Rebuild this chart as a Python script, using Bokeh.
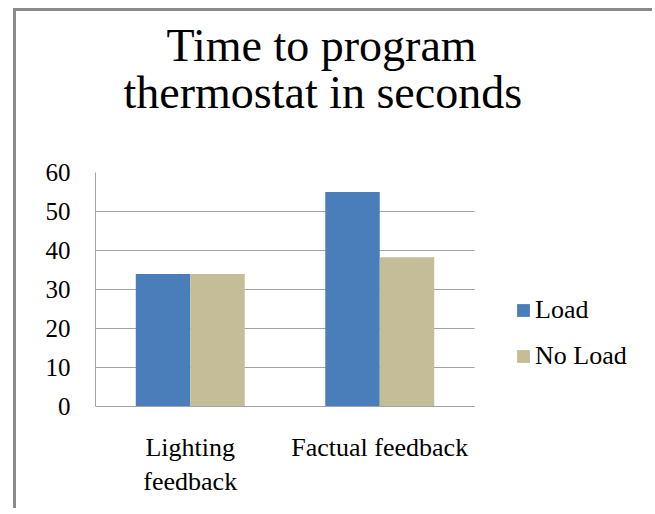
from bokeh.plotting import figure
from bokeh.models import (ColumnDataSource, Range1d, Legend, LegendItem,
                          Title, FixedTicker)
from bokeh.embed import file_html
from bokeh.resources import INLINE

# ---- data ----
categories = ["Lighting\nfeedback", "Factual feedback"]
series = ["Load", "No Load"]
load = [34, 55]
no_load = [34, 38.3]
y_ticks = [0, 10, 20, 30, 40, 50, 60]
colors = ["#4A7EBB", "#C4BD97"]

FONT = "Liberation Serif"
GRID = "#a3a3a3"

n = len(categories)
centers = [i + 0.5 for i in range(n)]
bw = 0.2875
src = ColumnDataSource(dict(
    x_load=[c - bw / 2 for c in centers],
    x_noload=[c + bw / 2 for c in centers],
    load=load, no_load=no_load))

# plot frame spans the bar area plus room for the legend on the right
W, H = 639, 500
FL, FR_BARS, FR = 79, 458, 630
x_end = n * (FR - FL) / (FR_BARS - FL)

p = figure(
    x_range=Range1d(0, x_end), y_range=Range1d(0, 60),
    width=W, height=H,
    output_backend="svg", toolbar_location=None,
    min_border_left=FL, min_border_right=W - FR,
    min_border_top=161, min_border_bottom=105,
)
p.styles = {"margin-left": "13px", "margin-top": "8px",
            "border-left": "3px solid #8a8a8a",
            "border-top": "3px solid #8a8a8a"}

r1 = p.vbar(x="x_load", top="load", width=bw, source=src,
            fill_color=colors[0], line_color=None)
r2 = p.vbar(x="x_noload", top="no_load", width=bw, source=src,
            fill_color=colors[1], line_color=None)

# titles: spacer (closest to the frame), then line 2, then line 1
p.add_layout(Title(text=" ", text_font=FONT, text_font_size="1px",
                   standoff=52), "above")
p.add_layout(Title(text="thermostat in seconds", text_font=FONT,
                   text_font_size="46px", text_font_style="normal",
                   text_color="black", align="left", offset=28,
                   standoff=0), "above")
p.add_layout(Title(text="Time to program", text_font=FONT,
                   text_font_size="46px", text_font_style="normal",
                   text_color="black", align="left", offset=71,
                   standoff=-12), "above")

# y axis
p.yaxis.ticker = FixedTicker(ticks=y_ticks)
p.yaxis.major_tick_in = 0
p.yaxis.major_tick_out = 0
p.yaxis.minor_tick_line_color = None
p.yaxis.major_label_standoff = 25
p.yaxis.axis_line_color = GRID
p.yaxis.major_label_text_font = FONT
p.yaxis.major_label_text_font_size = "25px"
p.yaxis.major_label_text_color = "black"

# x axis (category labels at the category centres)
p.xaxis.ticker = FixedTicker(ticks=centers)
p.xaxis.major_label_overrides = {c: lab for c, lab in zip(centers, categories)}
p.xaxis.bounds = (0, n)
p.xaxis.major_tick_in = 0
p.xaxis.major_tick_out = 0
p.xaxis.minor_tick_line_color = None
p.xaxis.major_label_standoff = 26
p.xaxis.axis_line_color = GRID
p.xaxis.major_label_text_font = FONT
p.xaxis.major_label_text_font_size = "26px"
p.xaxis.major_label_text_color = "black"

p.xgrid.grid_line_color = None
yg = p.ygrid[0]
yg.grid_line_color = GRID
yg.grid_line_width = 1
try:
    yg.cross_bounds = (0, n)
except AttributeError:
    yg.visible = False
    p.segment(x0=[0] * len(y_ticks), x1=[n] * len(y_ticks),
              y0=y_ticks, y1=y_ticks, line_color=GRID, line_width=1,
              level="underlay")

p.outline_line_color = None
p.background_fill_color = "white"
p.border_fill_color = "white"

legend = Legend(items=[LegendItem(label=series[0], renderers=[r1]),
                       LegendItem(label=series[1], renderers=[r2])],
                location=(420, 35), padding=0, spacing=16,
                glyph_width=16, glyph_height=16, label_height=30,
                label_standoff=4, label_text_font=FONT,
                label_text_font_size="26px", label_text_color="black",
                border_line_color=None, background_fill_alpha=0)
p.add_layout(legend, "center")

open("out.html", "w").write(file_html(p, INLINE))
